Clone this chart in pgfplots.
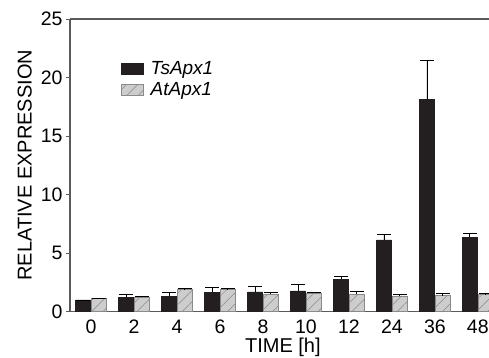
\documentclass[border=0pt]{standalone}
\usepackage{pgfplots}
\pgfplotsset{compat=1.18}
\usepackage{fontspec}
\setmainfont{Liberation Sans}
\usetikzlibrary{patterns.meta}
\definecolor{barblack}{HTML}{231F20}
\definecolor{hatchfill}{HTML}{CDCDCD}
\definecolor{hatchline}{HTML}{8A8A8A}
\definecolor{axisgray}{HTML}{5A5A5A}
\pgfplotstableread{
x ts tserr at aterr
0 1.00 0.00 1.12 0.05
1 1.22 0.28 1.22 0.08
2 1.33 0.34 1.90 0.06
3 1.64 0.43 1.90 0.06
4 1.70 0.42 1.50 0.17
5 1.78 0.51 1.59 0.06
6 2.78 0.19 1.50 0.19
7 6.14 0.46 1.36 0.08
8 18.14 3.30 1.38 0.14
9 6.34 0.31 1.47 0.08
}\datatable
\begin{document}
\begin{tikzpicture}
\begin{axis}[
  at={(70pt,46.3pt)}, anchor=south west,
  scale only axis, width=419pt, height=292.7pt,
  xmin=-0.49, xmax=9.26, ymin=0, ymax=25,
  axis x line=box, axis y line=left,
  axis line style={-, draw=axisgray, line width=1.3pt},
  ybar=0.8pt, bar width=15pt,
  xtick={0,...,9},
  xticklabels={0,2,4,6,8,10,12,24,36,48},
  x tick style={draw=none},
  ytick={0,5,10,15,20,25},
  y tick style={draw=axisgray, line width=0.8pt},
  tick align=outside, major tick length=4pt,
  tick label style={font=\fontsize{19.5}{19.5}\selectfont},
  /pgf/number format/assume math mode=true,
  xticklabel style={yshift=-1pt},
  yticklabel style={xshift=0pt},
  xlabel={TIME [h]}, ylabel={RELATIVE EXPRESSION},
  label style={font=\fontsize{20}{20}\selectfont},
  xlabel style={at={(axis description cs:0.508,-0.121)}, anchor=center},
  ylabel style={at={(axis description cs:-0.108,0.5)}, anchor=center},
  legend style={draw=none, fill=none, at={(axis description cs:0.117,0.871)}, anchor=north west,
    font=\fontsize{19}{19}\selectfont\itshape, row sep=3pt, inner sep=2pt,
    /tikz/every odd column/.append style={column sep=5pt}},
  legend cell align=left,
  legend image code/.code={\draw[#1] (-6pt,-5.5pt) rectangle (16pt,5.5pt);},
  error bars/y dir=plus, error bars/y explicit,
  error bars/error bar style={black, line width=0.9pt},
  error bars/error mark options={rotate=90, mark size=7pt, line width=0.9pt, black},
]
\addplot[fill=barblack, draw=barblack] table[x=x, y=ts, y error=tserr] {\datatable};
\addlegendentry{TsApx1}
\addplot[fill=hatchfill, draw=hatchline, line width=0.4pt,
  postaction={pattern={Lines[angle=45,distance=8pt,line width=0.5pt]}, pattern color=hatchline}]
  table[x=x, y=at, y error=aterr] {\datatable};
\addlegendentry{AtApx1}
\end{axis}
\pgfresetboundingbox
\useasboundingbox (0,0) rectangle (489pt,358pt);
\end{tikzpicture}
\end{document}
